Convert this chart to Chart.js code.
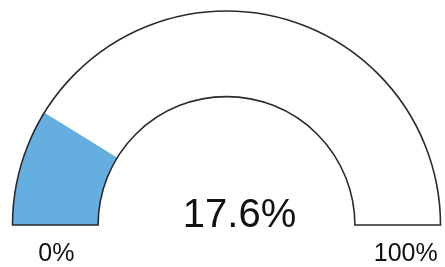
<!DOCTYPE html>
<html>
<head>
<meta charset="utf-8">
<script src="https://cdn.jsdelivr.net/npm/chart.js@4/dist/chart.umd.min.js"></script>
<style>
  html, body { margin: 0; padding: 0; background: #fff; }
  #wrap { width: 445px; height: 267px; position: relative; }
</style>
</head>
<body>
<div id="wrap"><canvas id="gauge"></canvas></div>
<script>
const categories = ["Valor", "Resto"];
const seriesValues = [17.6, 82.4];
const tickLabels = ["0%", "100%"];
const centerLabel = "17.6%";

const sliceColors = ["#64afe0", "#ffffff"];
const outlineColor = "#2a2a2a";

// outline around the whole half ring (no line between the two slices)
const gaugeOutline = {
  id: "gaugeOutline",
  afterDatasetsDraw(chart) {
    const meta = chart.getDatasetMeta(0);
    const arc = meta.data[0];
    if (!arc) return;
    const { x, y, innerRadius, outerRadius } = arc.getProps(
      ["x", "y", "innerRadius", "outerRadius"],
      true
    );
    const ctx = chart.ctx;
    ctx.save();
    ctx.beginPath();
    ctx.arc(x, y, outerRadius, Math.PI, 2 * Math.PI);
    ctx.lineTo(x + innerRadius, y);
    ctx.arc(x, y, innerRadius, 2 * Math.PI, Math.PI, true);
    ctx.closePath();
    ctx.lineWidth = 1.6;
    ctx.strokeStyle = outlineColor;
    ctx.lineJoin = "miter";
    ctx.stroke();

    ctx.fillStyle = "#111";
    ctx.textAlign = "center";
    ctx.textBaseline = "alphabetic";

    ctx.font = '40px "Liberation Sans", Arial, sans-serif';
    ctx.fillText(centerLabel, x + 13, y + 2);

    const band = (innerRadius + outerRadius) / 2;
    ctx.font = '25px "Liberation Sans", Arial, sans-serif';
    ctx.fillText(tickLabels[0], x - band + 1, y + 36);
    ctx.fillText(tickLabels[1], x + band + 8, y + 36);
    ctx.restore();
  },
};

new Chart(document.getElementById("gauge"), {
  type: "doughnut",
  data: {
    labels: categories,
    datasets: [
      {
        data: seriesValues,
        backgroundColor: sliceColors,
        borderWidth: 0,
      },
    ],
  },
  options: {
    responsive: true,
    maintainAspectRatio: false,
    animation: false,
    rotation: -90,
    circumference: 180,
    cutout: "60%",
    layout: {
      padding: { left: 12, right: 4, top: 11, bottom: 42 },
    },
    plugins: {
      legend: { display: false },
      tooltip: { enabled: false },
    },
  },
  plugins: [gaugeOutline],
});
</script>
</body>
</html>
